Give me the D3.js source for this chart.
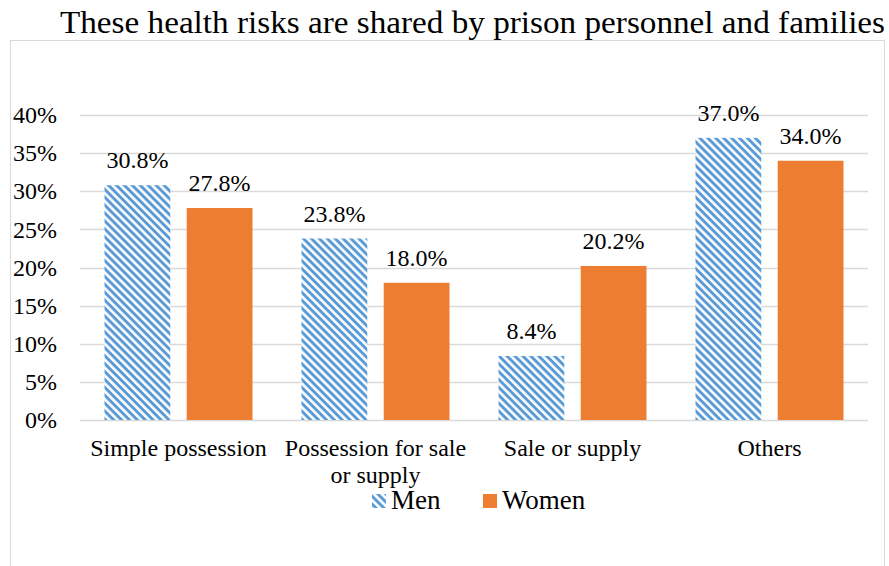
<!DOCTYPE html>
<html>
<head>
<meta charset="utf-8">
<script src="https://cdn.jsdelivr.net/npm/d3@7"></script>
<style>
  body { margin: 0; background: #fff; }
  svg text { font-family: "Liberation Serif", "Times New Roman", serif; fill: #000; }
</style>
</head>
<body>
<div id="chart"></div>
<script>
// chart data
var categories = ["Simple possession", "Possession for sale or supply", "Sale or supply", "Others"];
var seriesNames = ["Men", "Women"];
var men = [30.8, 23.8, 8.4, 37.0];
var women = [27.8, 18.0, 20.2, 34.0];
var yTicks = [0, 5, 10, 15, 20, 25, 30, 35, 40];
var title = "These health risks are shared by prison personnel and families";

var W = 889, H = 566;
var margin = {top: 115, right: 21, bottom: 146, left: 80},
    width = W - margin.left - margin.right,
    height = H - margin.top - margin.bottom;
var serif = "Liberation Serif, Times New Roman, serif";

var svg = d3.select("#chart").append("svg")
    .attr("width", W)
    .attr("height", H)
    .attr("font-family", serif);

// stripe pattern for Men
var defs = svg.append("defs");
var pat = defs.append("pattern")
    .attr("id", "stripes")
    .attr("patternUnits", "userSpaceOnUse")
    .attr("width", 5.6)
    .attr("height", 5.6)
    .attr("patternTransform", "rotate(45)");
pat.append("rect").attr("width", 5.6).attr("height", 5.6).attr("fill", "#fff");
pat.append("rect").attr("width", 5.6).attr("height", 3).attr("fill", "#5b9bd5");

// chart border
svg.append("rect")
    .attr("x", 10.5).attr("y", 40.5)
    .attr("width", 874).attr("height", 540)
    .attr("fill", "none")
    .attr("stroke", "#d9d9d9");

// title
svg.append("text")
    .attr("x", 60).attr("y", 33)
    .attr("textLength", 825)
    .attr("lengthAdjust", "spacingAndGlyphs")
    .style("font-size", "32px")
    .text(title);

var g = svg.append("g")
    .attr("transform", "translate(" + margin.left + "," + margin.top + ")");

var x0 = d3.scaleBand().domain(categories).range([0, width]).paddingInner(0).paddingOuter(0);
var x1 = d3.scaleBand().domain(seriesNames).range([24.5, x0.bandwidth() - 24.5]).paddingInner(0.2);
var y = d3.scaleLinear().domain([0, 40]).range([height, 0]);

// gridlines
g.selectAll(".grid").data(yTicks).enter().append("line")
    .attr("x1", 0).attr("x2", width)
    .attr("y1", function(d) { return Math.round(y(d)) + 0.5; })
    .attr("y2", function(d) { return Math.round(y(d)) + 0.5; })
    .attr("stroke", "#d9d9d9")
    .attr("stroke-width", 1.3);

// y axis labels
var yAxis = g.append("g")
    .call(d3.axisLeft(y).tickValues(yTicks).tickSize(0).tickPadding(23)
      .tickFormat(function(d) { return d + "%"; }));
yAxis.attr("font-family", serif).attr("font-size", 24);
yAxis.select(".domain").remove();
yAxis.selectAll("text")
    .attr("fill", "#000");

var rows = categories.map(function(c, i) {
  return {cat: c, values: [{k: "Men", v: men[i]}, {k: "Women", v: women[i]}]};
});

var grp = g.selectAll(".cat").data(rows).enter().append("g")
    .attr("transform", function(d) { return "translate(" + x0(d.cat) + ",0)"; });

grp.selectAll("rect").data(function(d) { return d.values; }).enter().append("rect")
    .attr("x", function(d) { return x1(d.k); })
    .attr("width", x1.bandwidth())
    .attr("y", function(d) { return y(d.v); })
    .attr("height", function(d) { return height - y(d.v); })
    .attr("fill", function(d) { return d.k === "Men" ? "url(#stripes)" : "#ed7d31"; });

grp.selectAll(".lbl").data(function(d) { return d.values; }).enter().append("text")
    .attr("x", function(d) { return x1(d.k) + x1.bandwidth() / 2; })
    .attr("y", function(d) { return y(d.v) - 17; })
    .attr("text-anchor", "middle")
    .style("font-size", "24px")
    .text(function(d) { return d.v.toFixed(1) + "%"; });

// category labels (wrapped)
var catLines = {"Possession for sale or supply": ["Possession for sale", "or supply"]};
grp.each(function(d) {
  var lines = catLines[d.cat] || [d.cat];
  var t = d3.select(this).append("text")
      .attr("text-anchor", "middle")
      .style("font-size", "24px");
  lines.forEach(function(l, i) {
    t.append("tspan")
      .attr("x", x0.bandwidth() / 2)
      .attr("y", height + 36 + i * 27)
      .text(l);
  });
});

// legend
var legend = svg.append("g").attr("transform", "translate(372,494)");
legend.append("rect").attr("x", 0).attr("y", 0).attr("width", 14).attr("height", 14)
    .attr("fill", "url(#stripes)");
legend.append("text").attr("x", 19).attr("y", 15).style("font-size", "27px").text("Men");
legend.append("rect").attr("x", 111).attr("y", 0).attr("width", 14).attr("height", 14)
    .attr("fill", "#ed7d31");
legend.append("text").attr("x", 130).attr("y", 15).style("font-size", "27px").text("Women");
</script>
</body>
</html>
